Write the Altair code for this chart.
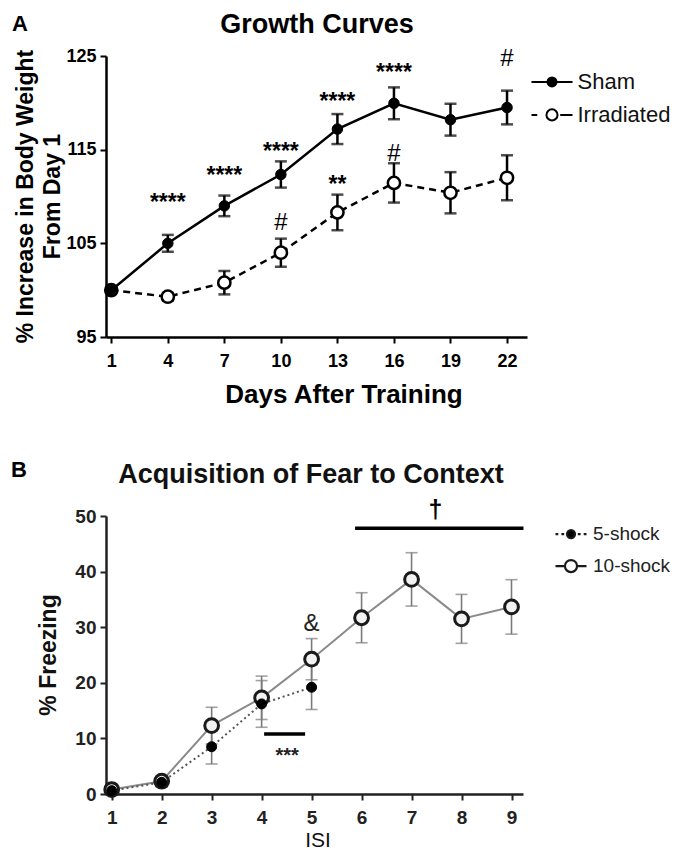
import altair as alt
import pandas as pd

FONT = "Liberation Sans"

# ---------------- Panel A data ----------------
days = [1, 4, 7, 10, 13, 16, 19, 22]
sham_mean = [100.0, 105.0, 109.0, 112.35, 117.2, 119.95, 118.2, 119.5]
sham_sem = [0.0, 0.9, 1.1, 1.4, 1.6, 1.7, 1.7, 1.8]
irr_mean = [100.0, 99.3, 100.8, 104.0, 108.3, 111.45, 110.4, 112.0]
irr_sem = [0.0, 0.4, 1.25, 1.5, 1.9, 2.1, 2.2, 2.4]
groups_a = ["Sham", "Irradiated"]
a_yticks = [95, 105, 115, 125]

star_x = [4, 7, 10, 13, 16, 13]
star_y = [110.0, 112.8, 115.4, 120.7, 123.85, 111.85]
star_t = ["****", "****", "****", "****", "****", "**"]
hash_x = [10, 16, 22]
hash_y = [107.25, 114.6, 124.8]
hash_t = ["#", "#", "#"]

# ---------------- Panel B data ----------------
isi = [1, 2, 3, 4, 5, 6, 7, 8, 9]
ten_mean = [0.8, 2.3, 12.3, 17.3, 24.25, 31.7, 38.6, 31.5, 33.65]
ten_sem = [0.4, 0.9, 3.3, 3.9, 3.7, 4.5, 4.8, 4.4, 4.9]
five_isi = [1, 2, 3, 4, 5]
five_mean = [0.6, 2.1, 8.5, 16.2, 19.2]
five_sem = [0.3, 0.8, 3.1, 4.2, 4.0]
groups_b = ["5-shock", "10-shock"]
b_yticks = [0, 10, 20, 30, 40, 50]

sig_x = [5.87, 4.05]
sig_x2 = [9.24, 4.87]
sig_y = [47.8, 10.8]
mark_x = [7.48, 5, 4.51]
mark_y = [51, 30.7, 7.7]
mark_t = ["†", "&", "***"]

# ---------------- legend symbols (unit box -1..1) ----------------
P_SHAM = "M-1,0L1,0M0.22,0A0.22,0.22,0,1,1,-0.22,0A0.22,0.22,0,1,1,0.22,0"
P_IRR = ("M-1,0L-0.72,0M0.4,0L1,0"
         "M0.27,0A0.27,0.27,0,1,1,-0.27,0A0.27,0.27,0,1,1,0.27,0")
P_FIVE = ("M-1,0L-0.82,0M-0.62,0L-0.44,0M0.44,0L0.62,0M0.82,0L1,0"
          "M0.26,0A0.26,0.26,0,1,1,-0.26,0A0.26,0.26,0,1,1,0.26,0")
P_TEN = ("M-1,0L-0.39,0M0.39,0L1,0"
         "M0.39,0A0.39,0.39,0,1,1,-0.39,0A0.39,0.39,0,1,1,0.39,0")


def txt(text, x, y, size, weight="bold", color="#000", angle=0):
    return alt.Chart(pd.DataFrame({"t": [text]})).mark_text(
        font=FONT, fontSize=size, fontWeight=weight, color=color, align="center",
        baseline="middle", angle=angle).encode(text="t:N", x=alt.value(x), y=alt.value(y))


def axis(values, size, color, pad):
    return alt.Axis(values=values, title=None, labelFont=FONT, labelFontSize=size,
                    labelFontWeight="bold", labelColor=color, labelPadding=pad,
                    tickSize=6, tickWidth=2, tickColor=color, domainColor=color,
                    domainWidth=2.5, grid=False, labelFlush=False, labelOverlap=False)


# ---------------- Panel A ----------------
rows = []
for g, ms, ss in [("Sham", sham_mean, sham_sem), ("Irradiated", irr_mean, irr_sem)]:
    for d, m, s in zip(days, ms, ss):
        rows.append({"day": d, "group": g, "mean": m, "sem": s})
a_df = pd.DataFrame(rows)

WA, HA = 421, 281
xsA = alt.Scale(domain=[0.72, 23.06], nice=False, zero=False)
ysA = alt.Scale(domain=[95, 125], nice=False, zero=False)
axAx = axis(days, 18, "#000", 9)
axAy = axis(a_yticks, 18, "#000", 4)


def XA(f):
    return alt.X(f, scale=xsA, axis=axAx)


def YA(f):
    return alt.Y(f, scale=ysA, axis=axAy)


baseA = alt.Chart(a_df)
errA = (baseA.transform_filter("datum.sem > 0")
        .transform_calculate(lo="datum.mean - datum.sem", hi="datum.mean + datum.sem"))
errA_rule = errA.mark_rule(color="black", strokeWidth=2.5).encode(
    x=XA("day:Q"), y=YA("lo:Q"), y2="hi:Q")
errA_cap = errA.transform_fold(["lo", "hi"], as_=["k", "v"]).mark_tick(
    orient="horizontal", size=12, thickness=2.5, color="black").encode(
    x=XA("day:Q"), y=YA("v:Q"))

line_irr = baseA.transform_filter(alt.datum.group == "Irradiated").mark_line(
    color="black", strokeWidth=2.5, strokeDash=[7, 5]).encode(x=XA("day:Q"), y=YA("mean:Q"))
line_sham = baseA.transform_filter(alt.datum.group == "Sham").mark_line(
    color="black", strokeWidth=2.5).encode(x=XA("day:Q"), y=YA("mean:Q"))
pts_irr = baseA.transform_filter(alt.datum.group == "Irradiated").mark_point(
    shape="circle", filled=True, fill="white", stroke="black", strokeWidth=2.5,
    size=150, opacity=1).encode(x=XA("day:Q"), y=YA("mean:Q"))
pts_sham = baseA.transform_filter(alt.datum.group == "Sham").mark_point(
    shape="circle", filled=True, fill="black", stroke="black", strokeWidth=1,
    size=110, opacity=1).encode(x=XA("day:Q"), y=YA("mean:Q"))

starsA = alt.Chart(pd.DataFrame({"x": star_x, "y": star_y, "t": star_t})).mark_text(
    font=FONT, fontSize=23, fontWeight="bold", color="black", align="center",
    baseline="middle", dy=6).encode(x=XA("x:Q"), y=YA("y:Q"), text="t:N")
hashA = alt.Chart(pd.DataFrame({"x": hash_x, "y": hash_y, "t": hash_t})).mark_text(
    font=FONT, fontSize=24, color="black", align="center", baseline="middle", dy=1).encode(
    x=XA("x:Q"), y=YA("y:Q"), text="t:N")

legA_def = alt.Legend(title=None, orient="none", legendX=424.5, legendY=4.4,
                      labelFont=FONT, labelFontSize=22, labelColor="#111", labelOffset=4,
                      rowPadding=-4, padding=0, symbolSize=1681, symbolStrokeWidth=2,
                      labelLimit=300)
legA = alt.Chart(pd.DataFrame({"group": groups_a})).transform_filter("false").mark_point(
    filled=True, stroke="black", strokeWidth=2, size=1681, opacity=1).encode(
    shape=alt.Shape("group:N", scale=alt.Scale(domain=groups_a, range=[P_SHAM, P_IRR]),
                    legend=legA_def),
    fill=alt.Fill("group:N", scale=alt.Scale(domain=groups_a, range=["black", "white"]),
                  legend=legA_def),
    stroke=alt.Stroke("group:N", scale=alt.Scale(domain=groups_a, range=["black", "black"]),
                      legend=legA_def))

chartA = alt.layer(
    errA_rule, errA_cap, line_irr, line_sham, pts_irr, pts_sham, starsA, hashA, legA,
    txt("Growth Curves", 211, -31, 27),
    txt("A", -86, -32, 22),
    txt("% Increase in  Body Weight", -80.5, HA / 2, 23, angle=270),
    txt("From Day 1", -53.5, HA / 2, 23, angle=270),
    txt("Days After Training", 238, HA + 58, 26),
).properties(width=WA, height=HA)

# ---------------- Panel B ----------------
rows = []
for i, m, s in zip(isi, ten_mean, ten_sem):
    rows.append({"isi": i, "group": "10-shock", "mean": m, "sem": s})
for i, m, s in zip(five_isi, five_mean, five_sem):
    rows.append({"isi": i, "group": "5-shock", "mean": m, "sem": s})
b_df = pd.DataFrame(rows)

WB, HB = 417, 278
xsB = alt.Scale(domain=[0.886, 9.23], nice=False, zero=False)
ysB = alt.Scale(domain=[0, 50], nice=False, zero=False)
axBx = axis(isi, 19, "#222", 8)
axBy = axis(b_yticks, 19, "#222", 4)


def XB(f):
    return alt.X(f, scale=xsB, axis=axBx)


def YB(f):
    return alt.Y(f, scale=ysB, axis=axBy)


baseB = alt.Chart(b_df)
errB = baseB.transform_calculate(lo="datum.mean - datum.sem", hi="datum.mean + datum.sem")
errB_rule = errB.mark_rule(color="#7a7a7a", strokeWidth=1.6).encode(
    x=XB("isi:Q"), y=YB("lo:Q"), y2="hi:Q")
errB_cap = errB.transform_fold(["lo", "hi"], as_=["k", "v"]).mark_tick(
    orient="horizontal", size=12, thickness=1.6, color="#7a7a7a").encode(
    x=XB("isi:Q"), y=YB("v:Q"))

line_ten = baseB.transform_filter(alt.datum.group == "10-shock").mark_line(
    color="#8a8a8a", strokeWidth=2).encode(x=XB("isi:Q"), y=YB("mean:Q"))
line_five = baseB.transform_filter(alt.datum.group == "5-shock").mark_line(
    color="#555555", strokeWidth=2, strokeDash=[2, 3]).encode(x=XB("isi:Q"), y=YB("mean:Q"))
pts_ten = baseB.transform_filter(alt.datum.group == "10-shock").mark_point(
    shape="circle", filled=True, fill="#f2f2f2", stroke="#1a1a1a", strokeWidth=3,
    size=190, opacity=1).encode(x=XB("isi:Q"), y=YB("mean:Q"))
pts_five = baseB.transform_filter(alt.datum.group == "5-shock").mark_point(
    shape="circle", filled=True, fill="black", stroke="black", strokeWidth=1,
    size=100, opacity=1).encode(x=XB("isi:Q"), y=YB("mean:Q"))

sigB = alt.Chart(pd.DataFrame({"x": sig_x, "x2": sig_x2, "y": sig_y})).mark_rule(
    color="black", strokeWidth=3.5).encode(x=XB("x:Q"), x2="x2:Q", y=YB("y:Q"))

marks_df = pd.DataFrame({"x": mark_x, "y": mark_y, "t": mark_t})
daggerB = alt.Chart(marks_df).transform_filter(alt.datum.t == "†").mark_text(
    font=FONT, fontSize=25, fontWeight="bold", color="black", align="center",
    baseline="middle").encode(x=XB("x:Q"), y=YB("y:Q"), text="t:N")
ampB = alt.Chart(marks_df).transform_filter(alt.datum.t == "&").mark_text(
    font=FONT, fontSize=24, color="#222", align="center", baseline="middle", dy=1).encode(
    x=XB("x:Q"), y=YB("y:Q"), text="t:N")
starB = alt.Chart(marks_df).transform_filter(alt.datum.t == "***").mark_text(
    font=FONT, fontSize=20, fontWeight="bold", color="#222", align="center",
    baseline="middle", dy=5).encode(x=XB("x:Q"), y=YB("y:Q"), text="t:N")

legB_def = alt.Legend(title=None, orient="none", legendX=448, legendY=1.1,
                      labelFont=FONT, labelFontSize=19, labelColor="#222", labelOffset=5,
                      rowPadding=5, padding=0, symbolSize=961, symbolStrokeWidth=2.2,
                      labelLimit=300)
legB = alt.Chart(pd.DataFrame({"group": groups_b})).transform_filter("false").mark_point(
    filled=True, stroke="#1a1a1a", strokeWidth=2.2, size=961, opacity=1).encode(
    shape=alt.Shape("group:N", scale=alt.Scale(domain=groups_b, range=[P_FIVE, P_TEN]),
                    legend=legB_def),
    fill=alt.Fill("group:N", scale=alt.Scale(domain=groups_b, range=["black", "white"]),
                  legend=legB_def),
    stroke=alt.Stroke("group:N", scale=alt.Scale(domain=groups_b, range=["#1a1a1a", "#1a1a1a"]),
                      legend=legB_def))

chartB = alt.layer(
    errB_rule, errB_cap, line_ten, line_five, pts_ten, pts_five, sigB, daggerB, ampB, starB,
    legB,
    txt("Acquisition of  Fear to Context", 205, -41, 27, color="#111"),
    txt("B", -87, -46, 22),
    txt("% Freezing", -57, HB / 2, 23, color="#111", angle=270),
    txt("ISI", 212, HB + 47, 21, weight="normal", color="#111"),
).properties(width=WB, height=HB)

chart = alt.vconcat(chartA, chartB, spacing=179, bounds="flush").resolve_scale(
    shape="independent", fill="independent", stroke="independent"
).resolve_legend(shape="independent", fill="independent", stroke="independent").properties(
    padding={"top": 3, "left": 3, "right": 0, "bottom": 0}
).configure_view(stroke=None)

chart.save("out.html", embed_options={"renderer": "svg", "actions": False})
